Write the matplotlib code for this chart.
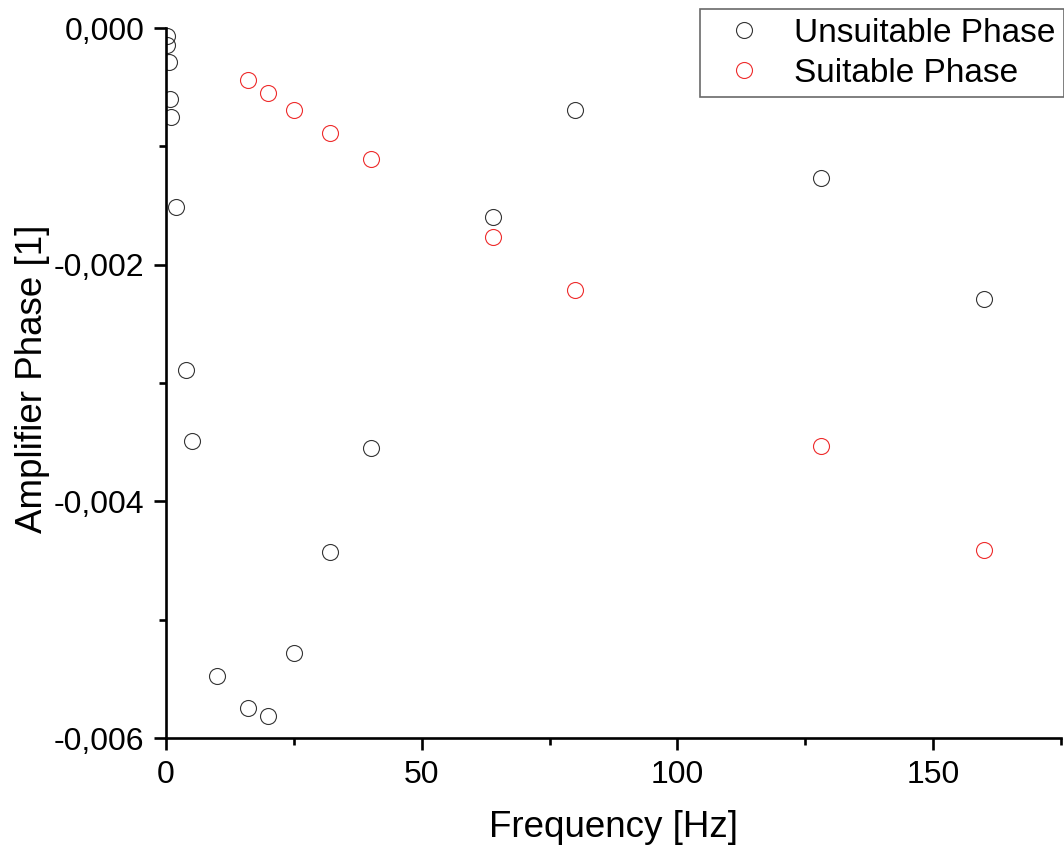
import matplotlib
matplotlib.use("Agg")
import matplotlib.pyplot as plt
from matplotlib.ticker import MultipleLocator, FuncFormatter

plt.rcParams['font.family'] = ['Liberation Sans', 'DejaVu Sans']

# Unsuitable phase data
unsuit_freq = [0.1, 0.2, 0.5, 0.8, 1.0, 2, 4, 5, 10, 16, 20, 25, 32, 40, 64, 80, 128, 160]
unsuit_phase = [-0.00007, -0.00014, -0.00029, -0.00060, -0.00075, -0.00151, -0.00289,
                -0.00349, -0.00548, -0.00575, -0.00581, -0.00528, -0.00443, -0.00355,
                -0.00160, -0.00069, -0.00127, -0.00229]

# Suitable phase data
suit_freq = [16, 20, 25, 32, 40, 64, 80, 128, 160]
suit_phase = [-0.00044, -0.00055, -0.00069, -0.00089, -0.00111, -0.00177, -0.00221,
              -0.00353, -0.00441]

fig = plt.figure(figsize=(10.64, 8.5), dpi=100)
ax = fig.add_axes([166/1064, 1 - 738/850, (1061 - 166)/1064, (738 - 28)/850])

ms = 11.5
ax.plot(unsuit_freq, unsuit_phase, linestyle='none', marker='o', markersize=ms,
        markerfacecolor='none', markeredgecolor='#333333', markeredgewidth=0.8,
        label='Unsuitable Phase')
ax.plot(suit_freq, suit_phase, linestyle='none', marker='o', markersize=ms,
        markerfacecolor='none', markeredgecolor='#ee2b2b', markeredgewidth=0.8,
        label='Suitable Phase')

ax.set_xlim(0, 175)
ax.set_ylim(-0.006, 0.0)

for s in ['top', 'right']:
    ax.spines[s].set_visible(False)
for s in ['left', 'bottom']:
    ax.spines[s].set_linewidth(1.9)

ax.xaxis.set_major_locator(MultipleLocator(50))
ax.xaxis.set_minor_locator(MultipleLocator(25))
ax.yaxis.set_major_locator(MultipleLocator(0.002))
ax.yaxis.set_minor_locator(MultipleLocator(0.001))

def yfmt(v, pos):
    s = f"{v:.3f}".replace('.', ',')
    if s.startswith('-') and s.strip('-0,') == '':
        s = s[1:]
    return s

ax.yaxis.set_major_formatter(FuncFormatter(yfmt))

ax.tick_params(which='major', direction='out', length=8.5, width=1.9, labelsize=23, pad=7)
ax.tick_params(which='minor', direction='out', length=5, width=1.9)

ax.set_xlabel('Frequency [Hz]', fontsize=26.5)
ax.set_ylabel('Amplifier Phase [1]', fontsize=26.5)
ax.xaxis.set_label_coords(0.5, -0.101)
ax.yaxis.set_label_coords(-0.1296, 0.506)

leg = ax.legend(loc='upper right', bbox_to_anchor=(1063.5/1064, 1 - 9.5/850),
                bbox_transform=fig.transFigure, fontsize=24, frameon=True,
                fancybox=False, borderaxespad=0, handletextpad=0.45,
                borderpad=0.25, labelspacing=0.27, handlelength=2.1)
leg.get_frame().set_edgecolor('#444444')
leg.get_frame().set_linewidth(1.2)

fig.savefig('out.png', dpi=100)
